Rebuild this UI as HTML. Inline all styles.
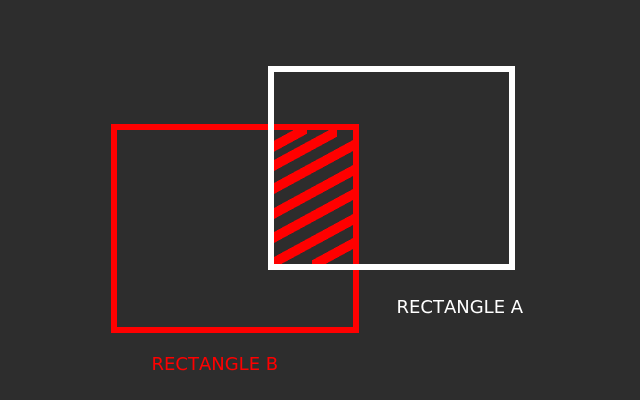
<!DOCTYPE html>
<html>
<head>
<meta charset="utf-8">
<title>Rectangle intersection</title>
<style>
html,body{margin:0;padding:0;background:#2d2d2d;width:640px;height:400px;overflow:hidden}
svg{display:block}
text{font-family:"DejaVu Sans",sans-serif;font-size:18px;font-kerning:none}
</style>
</head>
<body>
<svg width="640" height="400" viewBox="0 0 640 400" xmlns="http://www.w3.org/2000/svg">
  <defs>
    <clipPath id="overlap"><rect x="274" y="127" width="82" height="137"/></clipPath>
  </defs>
  <rect width="640" height="400" fill="#2d2d2d"/>
  <g clip-path="url(#overlap)" fill="#ff0000" shape-rendering="crispEdges">
    <polygon points="274,140.7 307,122.75 307,133.75 274,151.7"/>
    <polygon points="274,160 337,125.73 337,136.73 274,171"/>
    <polygon points="274,183 356,138.4 356,149.4 274,194"/>
    <polygon points="274,208 356,163.4 356,174.4 274,219"/>
    <polygon points="274,232 356,187.4 356,198.4 274,243"/>
    <polygon points="274,257 356,212.4 356,223.4 274,268"/>
    <polygon points="312,260.33 356,236.4 356,247.4 312,271.33"/>
  </g>
  <rect x="114" y="127" width="242" height="203" fill="none" stroke="#ff0000" stroke-width="6" shape-rendering="crispEdges"/>
  <rect x="271" y="69" width="241" height="198" fill="none" stroke="#ffffff" stroke-width="6" shape-rendering="crispEdges"/>
  <text x="396.500" y="313" fill="#ffffff">RECTANGLE A</text>
  <text x="151.500" y="370" fill="#ff0000">RECTANGLE B</text>
</svg>
</body>
</html>
